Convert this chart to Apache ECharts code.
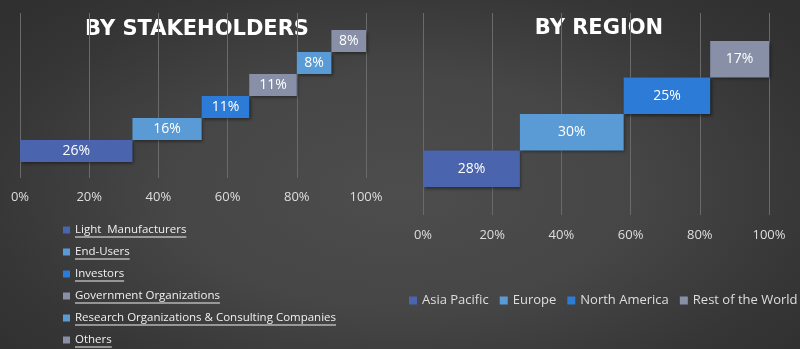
<!DOCTYPE html>
<html><head><meta charset="utf-8">
<script src="https://cdn.jsdelivr.net/npm/echarts@6/dist/echarts.min.js"></script>
<style>
html,body{margin:0;padding:0;background:#333;}
#c{width:800px;height:349px;background:radial-gradient(ellipse 65% 75% at 50% 55%, #4d4d4d 0%, #464646 45%, #363636 80%, #303030 100%);}
</style>
</head><body><div id="c"></div>
<script>
// ---- data ----
const stakeholderNames = ['Light  Manufacturers', 'End-Users', 'Investors', 'Government Organizations', 'Research Organizations & Consulting Companies', 'Others'];
const stakeholderValues = [26, 16, 11, 11, 8, 8];
const regionNames = ['Asia Pacific', 'Europe', 'North America', 'Rest of the World'];
const regionValues = [28, 30, 25, 17];
const axisTickValues = [0, 20, 40, 60, 80, 100];
const titles = ['BY STAKEHOLDERS', 'BY REGION'];

// ---- styles ----
const stakeholderColors = ['#4a64ad', '#5b9bd5', '#2b7bd7', '#8890a8', '#5b9bd5', '#8890a8'];
const regionColors = ['#4a64ad', '#5b9bd5', '#2b7bd7', '#8890a8'];
const FONT = 'Open Sans';

function waterfall(names, values, colors, xIdx, yIdx, stack) {
  const total = values.reduce((a, b) => a + b, 0);
  const norm = values.map(v => v / total * 100);
  const base = [];
  let acc = 0;
  norm.forEach(v => { base.push(acc); acc += v; });
  const out = [{
    type: 'bar', stack: stack, xAxisIndex: xIdx, yAxisIndex: yIdx,
    data: base, silent: true, barCategoryGap: '0%',
    itemStyle: { color: 'rgba(0,0,0,0)' }, label: { show: false }
  }];
  names.forEach((n, i) => {
    out.push({
      name: n, type: 'bar', stack: stack, xAxisIndex: xIdx, yAxisIndex: yIdx,
      barCategoryGap: '0%',
      data: norm.map((v, j) => j === i ? v : '-'),
      itemStyle: { color: colors[i], shadowColor: 'rgba(0,0,0,0.45)', shadowBlur: 3, shadowOffsetX: 1.5, shadowOffsetY: 1.5 },
      label: { show: true, position: 'inside', color: '#ffffff', fontSize: 14, fontFamily: FONT,
        formatter: () => values[i] + '%' }
    });
  });
  return out;
}

const chart = echarts.init(document.getElementById('c'), null, { renderer: 'canvas' });

const gridSplit = { show: true, lineStyle: { color: '#6a6a6a', width: 1 } };
function tickLabel(margin) {
  return { color: '#dedede', fontSize: 13, fontFamily: FONT, formatter: '{value}%', margin: margin };
}

const option = {
  backgroundColor: 'transparent',
  animation: false,
  grid: [
    { left: 20, width: 346, top: 13, height: 165 },
    { left: 20, width: 346, top: 30, height: 132 },
    { left: 423, width: 346, top: 13, height: 202 },
    { left: 423, width: 346, top: 41, height: 146 }
  ],
  xAxis: [
    { type: 'value', gridIndex: 0, min: axisTickValues[0], max: axisTickValues[axisTickValues.length - 1], interval: axisTickValues[1] - axisTickValues[0],
      axisLine: { show: false }, axisTick: { show: false }, splitLine: gridSplit, axisLabel: tickLabel(13) },
    { type: 'value', gridIndex: 1, min: 0, max: 100, show: false },
    { type: 'value', gridIndex: 2, min: axisTickValues[0], max: axisTickValues[axisTickValues.length - 1], interval: axisTickValues[1] - axisTickValues[0],
      axisLine: { show: false }, axisTick: { show: false }, splitLine: gridSplit, axisLabel: tickLabel(14) },
    { type: 'value', gridIndex: 3, min: 0, max: 100, show: false }
  ],
  yAxis: [
    { type: 'value', gridIndex: 0, show: false, min: 0, max: 1 },
    { type: 'category', gridIndex: 1, show: false, data: stakeholderNames },
    { type: 'value', gridIndex: 2, show: false, min: 0, max: 1 },
    { type: 'category', gridIndex: 3, show: false, data: regionNames }
  ],
  legend: [
    { orient: 'vertical', left: 63, top: 223, height: 126, padding: 0, itemWidth: 7, itemHeight: 7, itemGap: 8, icon: 'rect',
      data: stakeholderNames, selectedMode: false,
      textStyle: { color: '#f0f0f0', fontSize: 11.5, fontFamily: FONT, lineHeight: 14 } },
    { orient: 'horizontal', left: 409, top: 293, width: 391, padding: 0, itemWidth: 8, itemHeight: 8, itemGap: 11, icon: 'rect',
      data: regionNames, selectedMode: false,
      textStyle: { color: '#dedede', fontSize: 13, fontFamily: FONT, lineHeight: 15 } }
  ],
  series: [].concat(
    waterfall(stakeholderNames, stakeholderValues, stakeholderColors, 1, 1, 'sh'),
    waterfall(regionNames, regionValues, regionColors, 3, 3, 'rg')
  ),
  graphic: []
};

// titles
const titleStyle = { fill: '#ffffff', font: 'bold 21px "DejaVu Sans"', align: 'center', verticalAlign: 'middle',
  shadowColor: 'rgba(0,0,0,0.6)', shadowBlur: 3, shadowOffsetX: 1, shadowOffsetY: 1 };
option.graphic.push({ type: 'text', x: 197, y: 30, style: Object.assign({ text: titles[0] }, titleStyle) });
option.graphic.push({ type: 'text', x: 599, y: 29, style: Object.assign({ text: titles[1] }, titleStyle) });

// underline the left legend entries
const ctx = document.createElement('canvas').getContext('2d');
ctx.font = '11.5px "' + FONT + '"';
stakeholderNames.forEach((n, i) => {
  const w = ctx.measureText(n).width;
  const x0 = 63 + 7 + 5;
  const y = 223 + 7 + i * 22 + 7;
  option.graphic.push({ type: 'line', silent: true,
    shape: { x1: x0, y1: y, x2: x0 + w, y2: y },
    style: { stroke: '#f0f0f0', lineWidth: 1.2 } });
});

chart.setOption(option);
</script>
</body></html>
